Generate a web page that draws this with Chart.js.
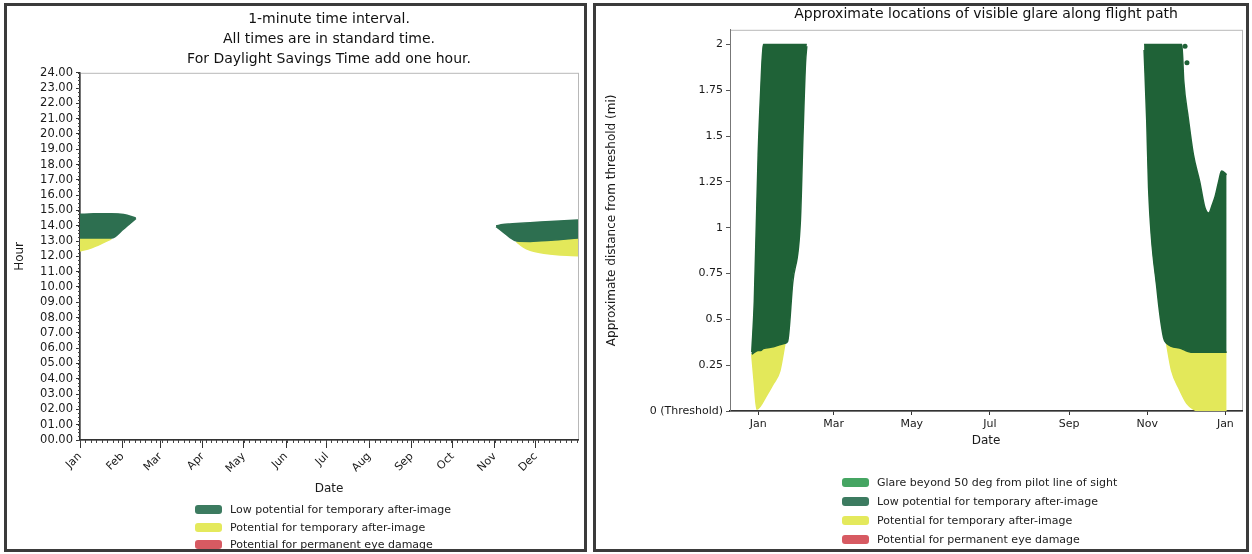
<!DOCTYPE html>
<html>

<head>
    <meta charset="utf-8">
    <title>Glare analysis</title>
    <script src="https://cdn.jsdelivr.net/npm/chart.js"></script>
    <style>
        body {
            margin: 0;
            width: 1252px;
            height: 554px;
            background: #ffffff;
            font-family: "DejaVu Sans", sans-serif;
            position: relative;
            overflow: hidden;
        }

        .panel {
            position: absolute;
            border: 3px solid #3b3b3b;
            box-sizing: border-box;
            pointer-events: none;
        }

        #leftPanel { left: 4px; top: 3px; width: 583px; height: 549px; }
        #rightPanel { left: 593px; top: 3px; width: 656px; height: 549px; }

        .wrap { position: absolute; }
        #leftWrap { left: 0; top: 0; width: 590px; height: 500px; }
        #rightWrap { left: 596px; top: 0; width: 652px; height: 458px; }

        .legend {
            position: absolute;
            font-size: 11px;
            color: #222;
        }

        .legend div {
            display: flex;
            align-items: center;
            white-space: nowrap;
        }

        #leftLegend { left: 195px; top: 501px; }
        #leftLegend div { height: 17.5px; }
        #rightLegend { left: 842px; top: 473px; }
        #rightLegend div { height: 19px; }

        .sw {
            display: inline-block;
            width: 27px;
            height: 9px;
            border-radius: 3px;
            margin-right: 8px;
        }
    </style>
</head>

<body>
    <div class="wrap" id="leftWrap"><canvas id="timeChart"></canvas></div>
    <div class="wrap" id="rightWrap"><canvas id="pathChart"></canvas></div>
    <div class="panel" id="leftPanel"></div>
    <div class="panel" id="rightPanel"></div>

    <div class="legend" id="leftLegend">
        <div><span class="sw" style="background:#3c7b60"></span>Low potential for temporary after-image</div>
        <div><span class="sw" style="background:#e4e95c"></span>Potential for temporary after-image</div>
        <div><span class="sw" style="background:#d75a62"></span>Potential for permanent eye damage</div>
    </div>
    <div class="legend" id="rightLegend">
        <div><span class="sw" style="background:#45a562"></span>Glare beyond 50 deg from pilot line of sight</div>
        <div><span class="sw" style="background:#3c7b60"></span>Low potential for temporary after-image</div>
        <div><span class="sw" style="background:#e4e95c"></span>Potential for temporary after-image</div>
        <div><span class="sw" style="background:#d75a62"></span>Potential for permanent eye damage</div>
    </div>

    <script>
        // ---- axis labels ----
        var months = ['Jan', 'Feb', 'Mar', 'Apr', 'May', 'Jun', 'Jul', 'Aug', 'Sep', 'Oct', 'Nov', 'Dec'];
        var monthDays = [0, 31, 59, 90, 120, 151, 181, 212, 243, 273, 304, 334];
        var pathMonths = ['Jan', 'Mar', 'May', 'Jul', 'Sep', 'Nov', 'Jan'];
        var pathMonthDays = [0, 59, 120, 181, 243, 304, 365];
        var distTicks = [0, 0.25, 0.5, 0.75, 1, 1.25, 1.5, 1.75, 2];

        // ---- left chart: time of day with glare (hours) by day of year ----
        var janLowDays = [0, 10, 23, 32, 41];
        var janLowTop = [14.75, 14.78, 14.78, 14.74, 14.5];
        var janLowBottom = [13.2, 13.2, 13.2, 13.8, 14.48];
        var janYellowDays = [0, 8, 16, 23];
        var janYellowTop = [13.2, 13.2, 13.2, 13.2];
        var janYellowBottom = [12.35, 12.55, 12.85, 13.15];

        var decLowDays = [305, 310, 315, 320, 330, 345, 365];
        var decLowTop = [14.0, 14.08, 14.12, 14.15, 14.2, 14.28, 14.38];
        var decLowBottom = [13.95, 13.6, 13.25, 13.0, 12.98, 13.05, 13.2];
        var decYellowDays = [320, 325, 330, 340, 350, 365];
        var decYellowTop = [13.0, 12.98, 12.98, 13.02, 13.1, 13.2];
        var decYellowBottom = [12.95, 12.6, 12.4, 12.2, 12.1, 12.05];

        // ---- right chart: distance from threshold (mi) by day of year ----
        var janPathDays = [-5, -3, 0, 2, 4, 12, 21, 23, 27, 33, 35, 37, 38];
        var janPathTop = [0.32, 0.6, 1.4, 1.75, 2.0, 2.0, 2.0, 2.0, 2.0, 2.0, 2.0, 2.0, 2.0];
        var janPathBottom = [0.31, 0.32, 0.33, 0.33, 0.34, 0.35, 0.37, 0.38, 0.7, 1.04, 1.5, 1.9, 1.99];
        var janPathYellowDays = [-5, -3, -1, 7, 12, 17, 21];
        var janPathYellowTop = [0.31, 0.32, 0.33, 0.34, 0.35, 0.36, 0.37];
        var janPathYellowBottom = [0.31, 0.15, 0.01, 0.09, 0.15, 0.22, 0.37];

        var novPathDays = [301.5, 303.6, 305, 311.5, 316.7, 319, 331, 332.5, 336, 340, 345, 349, 352, 355, 357, 360, 362, 366];
        var novPathTop = [2.0, 2.0, 2.0, 2.0, 2.0, 2.0, 2.0, 1.8, 1.6, 1.4, 1.25, 1.11, 1.08, 1.13, 1.17, 1.26, 1.31, 1.29];
        var novPathBottom = [1.97, 1.58, 1.22, 0.67, 0.4, 0.37, 0.34, 0.335, 0.325, 0.32, 0.32, 0.32, 0.32, 0.32, 0.32, 0.32, 0.32, 0.32];
        var novPathYellowDays = [319, 323, 329, 335, 340, 345, 366];
        var novPathYellowTop = [0.37, 0.36, 0.34, 0.325, 0.32, 0.32, 0.32];
        var novPathYellowBottom = [0.37, 0.22, 0.12, 0.04, 0.01, 0, 0];
        var strayDays = [333.5, 335];
        var strayDist = [1.99, 1.9];

        var lowGreen = '#2d6f50';
        var pathGreen = '#1f6237';
        var yellow = '#e3e85a';

        function pts(xs, ys) {
            return xs.map(function (x, i) { return { x: x, y: ys[i] }; });
        }

        // upper edge filled down to lower edge
        function band(label, days, top, bottom, color) {
            return [{
                label: label,
                data: pts(days, top),
                showLine: true,
                fill: '+1',
                backgroundColor: color,
                borderColor: color,
                borderWidth: 1.5,
                pointRadius: 0,
                cubicInterpolationMode: 'monotone'
            }, {
                label: label,
                data: pts(days, bottom),
                showLine: true,
                fill: false,
                borderColor: color,
                borderWidth: 1.5,
                pointRadius: 0,
                cubicInterpolationMode: 'monotone'
            }];
        }

        // light frame round the plot like the original
        var frame = {
            id: 'frame',
            beforeDraw: function (chart) {
                var a = chart.chartArea, c = chart.ctx;
                c.save();
                c.strokeStyle = '#b8b8b8';
                c.lineWidth = 1;
                c.strokeRect(a.left + 0.5, a.top + 0.5, a.right - a.left, a.bottom - a.top);
                c.restore();
            }
        };

        // small minor ticks along the axes of the time chart
        var minorTicks = {
            id: 'minorTicks',
            afterDraw: function (chart) {
                var c = chart.ctx, x = chart.scales.x, y = chart.scales.y;
                c.save();
                c.strokeStyle = '#444';
                c.lineWidth = 1;
                c.beginPath();
                for (var d = 0; d <= 365; d += 4) {
                    var px = Math.round(x.getPixelForValue(d)) + 0.5;
                    c.moveTo(px, x.top);
                    c.lineTo(px, x.top + 3);
                }
                for (var h = 0; h <= 24; h += 0.25) {
                    var py = Math.round(y.getPixelForValue(h)) + 0.5;
                    c.moveTo(y.right, py);
                    c.lineTo(y.right - 2, py);
                }
                c.stroke();
                c.restore();
            }
        };

        Chart.defaults.font.family = '"DejaVu Sans", sans-serif';
        Chart.defaults.color = '#1a1a1a';

        new Chart(document.getElementById('timeChart'), {
            type: 'scatter',
            data: {
                datasets: []
                    .concat(band('Low potential for temporary after-image', janLowDays, janLowTop, janLowBottom, lowGreen))
                    .concat(band('Potential for temporary after-image', janYellowDays, janYellowTop, janYellowBottom, yellow))
                    .concat(band('Low potential for temporary after-image', decLowDays, decLowTop, decLowBottom, lowGreen))
                    .concat(band('Potential for temporary after-image', decYellowDays, decYellowTop, decYellowBottom, yellow))
            },
            options: {
                responsive: true,
                maintainAspectRatio: false,
                animation: false,
                layout: { padding: { left: 0, right: 12, top: 0, bottom: 0 } },
                plugins: {
                    legend: { display: false },
                    tooltip: { enabled: false },
                    title: {
                        display: true,
                        fullSize: false,
                        text: ['1-minute time interval.', 'All times are in standard time.', 'For Daylight Savings Time add one hour.'],
                        font: { size: 14, weight: 'normal', lineHeight: 1.4 },
                        color: '#111',
                        padding: { top: 10, bottom: 4 }
                    }
                },
                scales: {
                    x: {
                        type: 'linear',
                        min: 0,
                        max: 365,
                        afterBuildTicks: function (scale) {
                            scale.ticks = monthDays.map(function (d) { return { value: d }; });
                        },
                        afterFit: function (scale) { scale.height = 60; },
                        ticks: {
                            autoSkip: false,
                            minRotation: 45,
                            maxRotation: 45,
                            padding: 2,
                            font: { size: 11 },
                            callback: function (v) { return months[monthDays.indexOf(v)]; }
                        },
                        grid: { drawOnChartArea: false, tickLength: 8, color: '#333' },
                        border: { color: '#333', width: 1.5 },
                        title: { display: true, text: 'Date', font: { size: 12 }, padding: { top: 0, bottom: 4 } }
                    },
                    y: {
                        min: 0,
                        max: 24,
                        afterFit: function (scale) { scale.width = 80; },
                        ticks: {
                            stepSize: 1,
                            autoSkip: false,
                            padding: 3,
                            font: { size: 11.5 },
                            callback: function (v) { return (v < 10 ? '0' : '') + v + '.00'; }
                        },
                        grid: { drawOnChartArea: false, tickLength: 4, color: '#333' },
                        border: { color: '#333', width: 1.5 },
                        title: { display: true, text: 'Hour', font: { size: 12 }, padding: { top: 13, bottom: 0 } }
                    }
                }
            },
            plugins: [frame, minorTicks]
        });

        new Chart(document.getElementById('pathChart'), {
            type: 'scatter',
            data: {
                datasets: []
                    .concat(band('Low potential for temporary after-image', janPathDays, janPathTop, janPathBottom, pathGreen))
                    .concat(band('Potential for temporary after-image', janPathYellowDays, janPathYellowTop, janPathYellowBottom, yellow))
                    .concat(band('Low potential for temporary after-image', novPathDays, novPathTop, novPathBottom, pathGreen))
                    .concat(band('Potential for temporary after-image', novPathYellowDays, novPathYellowTop, novPathYellowBottom, yellow))
                    .concat([{
                        label: 'Low potential for temporary after-image',
                        data: pts(strayDays, strayDist),
                        pointRadius: 2.5,
                        pointBackgroundColor: pathGreen,
                        pointBorderWidth: 0
                    }])
            },
            options: {
                responsive: true,
                maintainAspectRatio: false,
                animation: false,
                layout: { padding: { left: 0, right: 6, top: 0, bottom: 0 } },
                plugins: {
                    legend: { display: false },
                    tooltip: { enabled: false },
                    title: {
                        display: true,
                        fullSize: false,
                        text: 'Approximate locations of visible glare along flight path',
                        font: { size: 14, weight: 'normal', lineHeight: 1.2 },
                        color: '#111',
                        padding: { top: 6, bottom: 7 }
                    }
                },
                scales: {
                    x: {
                        type: 'linear',
                        min: -22,
                        max: 378,
                        afterBuildTicks: function (scale) {
                            scale.ticks = pathMonthDays.map(function (d) { return { value: d }; });
                        },
                        afterFit: function (scale) { scale.height = 47; },
                        ticks: {
                            autoSkip: false,
                            maxRotation: 0,
                            padding: 3,
                            font: { size: 11 },
                            callback: function (v) { return pathMonths[pathMonthDays.indexOf(v)]; }
                        },
                        grid: { drawOnChartArea: false, tickLength: 4, color: '#333' },
                        border: { color: '#333', width: 1.5 },
                        title: { display: true, text: 'Date', font: { size: 12 }, padding: { top: 0, bottom: 10 } }
                    },
                    y: {
                        min: 0,
                        max: 2.08,
                        afterBuildTicks: function (scale) {
                            scale.ticks = distTicks.map(function (d) { return { value: d }; });
                        },
                        afterFit: function (scale) { scale.width = 134; },
                        ticks: {
                            padding: 3,
                            font: { size: 11 },
                            callback: function (v) { return v === 0 ? '0 (Threshold)' : String(v); }
                        },
                        grid: { drawOnChartArea: false, tickLength: 4, color: '#555' },
                        border: { color: '#777', width: 1 },
                        title: { display: true, text: 'Approximate distance from threshold (mi)', font: { size: 12 }, padding: { top: 9, bottom: 0 } }
                    }
                }
            },
            plugins: [frame]
        });
    </script>
</body>

</html>
